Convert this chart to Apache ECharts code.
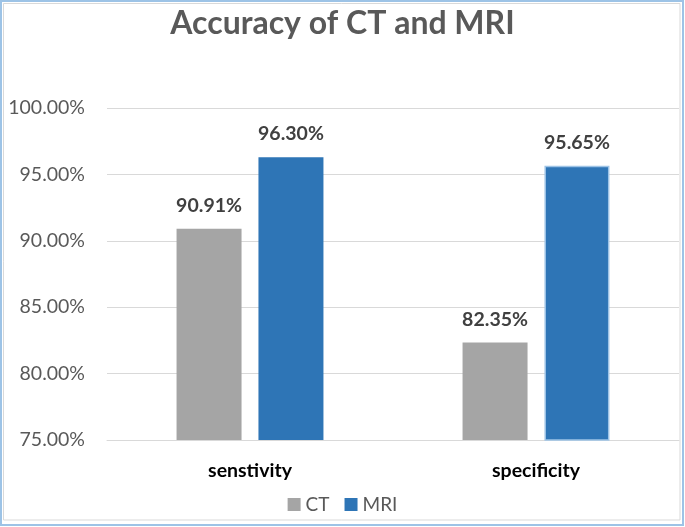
<!DOCTYPE html>
<html>
<head>
<meta charset="utf-8">
<script src="https://cdn.jsdelivr.net/npm/echarts@6/dist/echarts.min.js"></script>
<style>
  html, body { margin: 0; padding: 0; background: #ffffff; }
  #chart { width: 685px; height: 527px; }
</style>
</head>
<body>
<div id="chart"></div>
<script>
var titleText = 'Accuracy of CT and MRI';
var categories = ['senstivity', 'specificity'];
var seriesNames = ['CT', 'MRI'];
var ctValues = [90.91, 82.35];
var mriValues = [96.30, 95.65];
var yMin = 75, yMax = 100, yInterval = 5;

var FONT = 'Lato, "Open Sans", sans-serif';
var chart = echarts.init(document.getElementById('chart'), null, { renderer: 'canvas' });

var mriData = mriValues.map(function (v, i) {
  if (i === 1) {
    return { value: v, itemStyle: { borderColor: '#9DC3E6', borderWidth: 1.5 } };
  }
  return v;
});

var labelStyle = {
  show: true,
  position: 'top',
  distance: 13,
  fontFamily: FONT,
  fontWeight: 'bold',
  fontSize: 19.5,
  color: '#404040',
  formatter: function (p) { return p.value.toFixed(2) + '%'; }
};

chart.setOption({
  animation: false,
  backgroundColor: '#ffffff',
  title: {
    text: titleText,
    left: 'center',
    top: 3,
    textStyle: { fontFamily: FONT, fontWeight: 'bold', fontSize: 32, color: '#595959' }
  },
  legend: {
    data: seriesNames,
    bottom: 8,
    left: 'center',
    icon: 'rect',
    itemWidth: 13,
    itemHeight: 13,
    itemGap: 15,
    textStyle: { fontFamily: FONT, fontSize: 19, color: '#595959' }
  },
  grid: { left: 107, right: 6, top: 108, bottom: 87, containLabel: false },
  xAxis: {
    type: 'category',
    data: categories,
    axisLine: { show: true, lineStyle: { color: '#D9D9D9', width: 1 } },
    axisTick: { show: false },
    axisLabel: {
      margin: 21,
      fontFamily: FONT,
      fontWeight: 'bold',
      fontSize: 19.5,
      color: '#000000'
    }
  },
  yAxis: {
    type: 'value',
    min: yMin,
    max: yMax,
    interval: yInterval,
    axisLine: { show: false },
    axisTick: { show: false },
    splitLine: { show: true, lineStyle: { color: '#D9D9D9', width: 1 } },
    axisLabel: {
      margin: 22,
      fontFamily: FONT,
      fontSize: 19.5,
      color: '#595959',
      formatter: function (v) { return v.toFixed(2) + '%'; }
    }
  },
  series: [
    {
      name: seriesNames[0],
      type: 'bar',
      data: ctValues,
      barWidth: 65,
      barGap: '26%',
      itemStyle: { color: '#A5A5A5' },
      label: labelStyle
    },
    {
      name: seriesNames[1],
      type: 'bar',
      data: mriData,
      barWidth: 65,
      barGap: '26%',
      itemStyle: { color: '#2E75B6' },
      label: labelStyle
    }
  ],
  graphic: [
    {
      type: 'rect',
      silent: true,
      z: 100,
      shape: { x: 1, y: 1, width: 682, height: 524 },
      style: { fill: 'none', stroke: '#9DC3E6', lineWidth: 2 }
    },
    {
      type: 'rect',
      silent: true,
      z: 100,
      shape: { x: 3.5, y: 3.5, width: 676.5, height: 516.5 },
      style: { fill: 'none', stroke: '#D9D9D9', lineWidth: 1 }
    }
  ]
});
</script>
</body>
</html>
